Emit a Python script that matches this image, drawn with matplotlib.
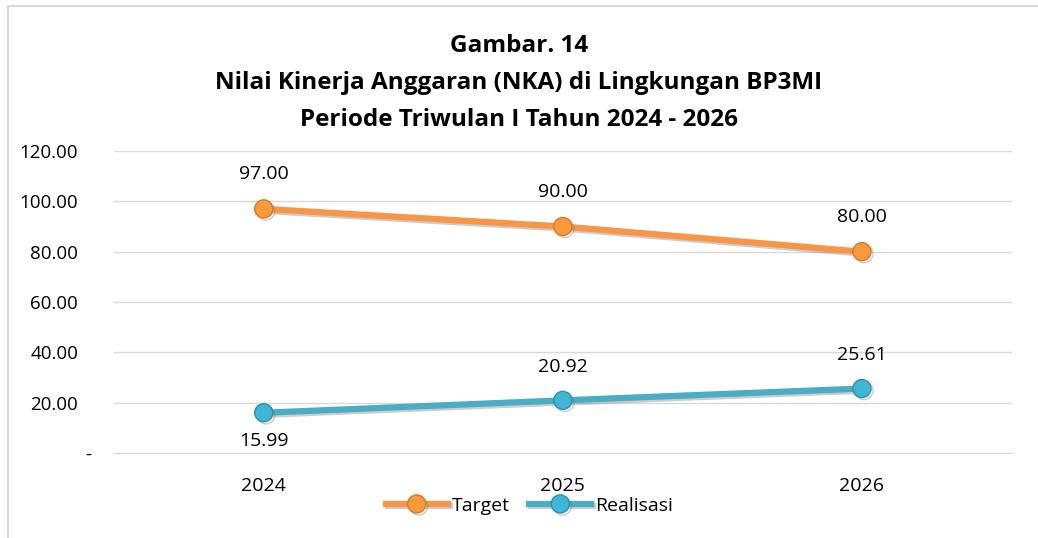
import matplotlib.pyplot as plt
import matplotlib.patheffects as pe
import matplotlib.transforms as mtransforms
from matplotlib.patches import Rectangle
from matplotlib.ticker import FuncFormatter

plt.rcParams['font.family'] = ['Open Sans', 'DejaVu Sans']

years = ["2024", "2025", "2026"]
target = [97.00, 90.00, 80.00]
realisasi = [15.99, 20.92, 25.61]
y_ticks = [0, 20, 40, 60, 80, 100, 120]

orange = "#F79646"
blue = "#4BACC6"

fig = plt.figure(figsize=(10.38, 5.38), dpi=100)
fig.patches.append(Rectangle((0.008, -0.01), 1.5, 0.999, transform=fig.transFigure,
                             fill=False, edgecolor="#D9D9D9", linewidth=1.5))
ax = fig.add_axes([0.110, 0.158, 0.8645, 0.5613])

x = list(range(len(years)))
shadow = [pe.SimpleLineShadow(offset=(1.5, -1.5), shadow_color="gray", alpha=0.4), pe.Normal()]

ax.plot(x, target, color=orange, linewidth=4.5, marker="o", markersize=13,
        markerfacecolor="#F79A3C", markeredgecolor="#D9782A", markeredgewidth=1,
        label="Target", path_effects=shadow, zorder=3)
ax.plot(x, realisasi, color=blue, linewidth=4.5, marker="o", markersize=13,
        markerfacecolor="#3FB6D6", markeredgecolor="#2E8FAA", markeredgewidth=1,
        label="Realisasi", path_effects=shadow, zorder=3)

# data labels
for xi, v in zip(x, target):
    ax.annotate(f"{v:.2f}", (xi, v), xytext=(0, 25), textcoords="offset points",
                ha="center", va="center", fontsize=14)
for i, (xi, v) in enumerate(zip(x, realisasi)):
    dy = -20 if i == 0 else 24
    ax.annotate(f"{v:.2f}", (xi, v), xytext=(0, dy), textcoords="offset points",
                ha="center", va="center", fontsize=14)

ax.set_xlim(-0.5, 2.5)
ax.set_ylim(0, 120)
ax.set_xticks(x)
ax.set_xticklabels(years, fontsize=14)
ax.set_yticks(y_ticks)
ax.yaxis.set_major_formatter(FuncFormatter(lambda v, p: "-" if v == 0 else f"{v:.2f}"))
ax.tick_params(axis="y", labelsize=13.5, length=0, pad=26)
ax.tick_params(axis="x", length=0, pad=17)
ax.grid(True, axis="y", color="#D9D9D9", linewidth=1)
ax.set_axisbelow(True)
for s in ["top", "right", "left"]:
    ax.spines[s].set_visible(False)
ax.spines["bottom"].set_color("#D9D9D9")

# nudge the "-" zero label to sit flush with the other labels
zero_lab = ax.yaxis.get_major_ticks()[0].label1
zero_lab.set_transform(zero_lab.get_transform()
                       + mtransforms.ScaledTranslation(0.13, 0, fig.dpi_scale_trans))

title_lines = ["Gambar. 14",
               "Nilai Kinerja Anggaran (NKA) di Lingkungan BP3MI",
               "Periode Triwulan I Tahun 2024 - 2026"]
for yy, line in zip([0.915, 0.846, 0.777], title_lines):
    fig.text(0.5, yy, line, ha="center", va="center", fontsize=17.5, fontweight="bold")

fig.legend(loc="center", bbox_to_anchor=(0.51, 0.06), ncol=2, frameon=False,
           fontsize=14, handlelength=3.2, columnspacing=1.0, handletextpad=0.2)

fig.savefig("out.png", dpi=100)
